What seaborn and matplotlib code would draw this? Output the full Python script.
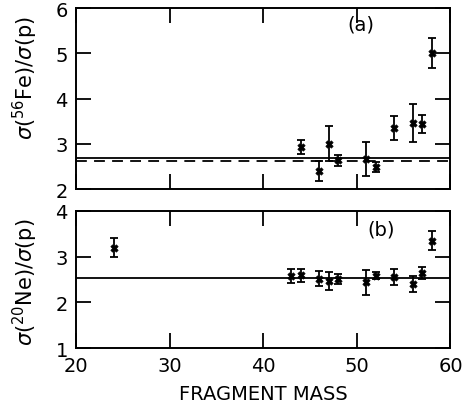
import matplotlib
matplotlib.use("Agg")
import matplotlib.pyplot as plt
import seaborn as sns
import pandas as pd

# Fe-56 / p cross-section ratios
fe_mass = [44, 46, 47, 48, 51, 52, 54, 56, 57, 58]
fe_ratio = [2.93, 2.40, 3.00, 2.64, 2.66, 2.49, 3.35, 3.46, 3.43, 5.01]
fe_err = [0.16, 0.23, 0.39, 0.12, 0.37, 0.11, 0.27, 0.41, 0.20, 0.33]
fe_mean_solid = 2.69
fe_mean_dashed = 2.62

# Ne-20 / p cross-section ratios
ne_mass = [24, 43, 44, 46, 47, 48, 51, 52, 54, 56, 57, 58]
ne_ratio = [3.20, 2.58, 2.59, 2.52, 2.47, 2.51, 2.44, 2.58, 2.56, 2.40, 2.64, 3.35]
ne_err = [0.20, 0.15, 0.15, 0.16, 0.19, 0.10, 0.27, 0.08, 0.18, 0.17, 0.14, 0.21]
ne_mean = 2.53

x_ticks = [20, 30, 40, 50, 60]

sns.set_style("ticks")
plt.rcParams["font.family"] = ["DejaVu Sans"]
plt.rcParams["mathtext.fontset"] = "dejavusans"
for key in ("text.color", "axes.labelcolor", "xtick.color", "ytick.color"):
    plt.rcParams[key] = "black"

fig = plt.figure(figsize=(4.62, 4.14), dpi=100)
ax_a = fig.add_axes([0.165, 0.541, 0.81, 0.437])
ax_b = fig.add_axes([0.165, 0.157, 0.81, 0.331])

fe = pd.DataFrame({"mass": fe_mass, "ratio": fe_ratio, "err": fe_err})
ne = pd.DataFrame({"mass": ne_mass, "ratio": ne_ratio, "err": ne_err})


def panel(ax, df, ylim, yticks, ylabel, tag, tag_xy, label_y):
    ax.errorbar(df["mass"], df["ratio"], yerr=df["err"], fmt="none",
                ecolor="black", elinewidth=1.3, capsize=3, capthick=1.3)
    sns.scatterplot(data=df, x="mass", y="ratio", ax=ax, marker="X",
                    s=28, color="black", edgecolor="black", linewidth=0.5,
                    zorder=3)
    ax.set_xlim(20, 60)
    ax.set_ylim(*ylim)
    ax.set_xticks(x_ticks)
    ax.set_yticks(yticks)
    ax.tick_params(direction="in", length=11, width=1.3, labelsize=14,
                   top=True, right=True, pad=6, colors="black")
    for s in ax.spines.values():
        s.set_visible(True)
        s.set_linewidth(1.4)
        s.set_color("black")
    ax.set_ylabel(ylabel, fontsize=15, color="black")
    ax.yaxis.set_label_coords(-0.097, label_y)
    ax.set_xlabel("")
    ax.text(*tag_xy, tag, transform=ax.transAxes, fontsize=14,
            ha="center", va="center", color="black")


panel(ax_a, fe, (2, 6), [2, 3, 4, 5, 6],
      r"$\sigma$($^{56}$Fe)/$\sigma$(p)", "(a)", (0.76, 0.91), 0.62)
ax_a.axhline(fe_mean_solid, color="black", lw=1.3, zorder=1)
ax_a.axhline(fe_mean_dashed, color="black", lw=1.3, ls=(0, (6, 4)), zorder=1)
ax_a.set_xticklabels([])

panel(ax_b, ne, (1, 4), [1, 2, 3, 4],
      r"$\sigma$($^{20}$Ne)/$\sigma$(p)", "(b)", (0.815, 0.87), 0.49)
ax_b.axhline(ne_mean, color="black", lw=1.3, zorder=1)
ax_b.set_xticklabels([str(t) for t in x_ticks])
ax_b.set_xlabel("FRAGMENT MASS", fontsize=14, labelpad=6, color="black")

fig.savefig("out.png", dpi=100)
